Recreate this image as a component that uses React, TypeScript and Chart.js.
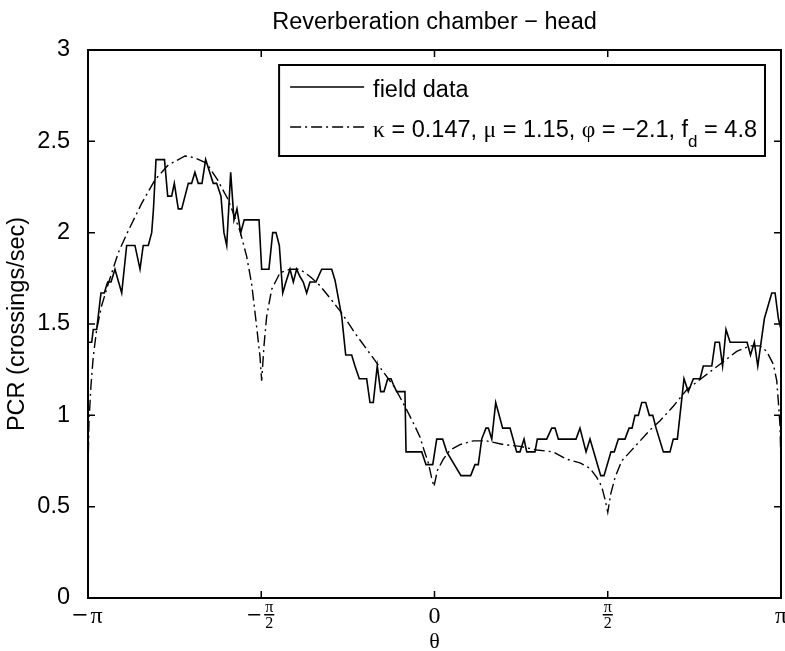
import React, { useEffect, useRef } from 'react';
import { Chart, registerables } from 'chart.js';

Chart.register(...registerables);

const TITLE = 'Reverberation chamber − head';
const Y_LABEL = 'PCR (crossings/sec)';
const X_LABEL = 'θ';
const X_TICK_VALUES = [-Math.PI, -Math.PI / 2, 0, Math.PI / 2, Math.PI];
const X_TICK_LABELS = ['−π', '−π/2', '0', 'π/2', 'π'];
const Y_MIN = 0;
const Y_MAX = 3;
const Y_STEP = 0.5;
const LEGEND_LABELS = ['field data', 'κ = 0.147, μ = 1.15, φ = −2.1, f_d = 4.8'];

const FIELD_THETA = [
  -3.142, -3.108, -3.094, -3.063, -3.024, -2.994, -2.963, -2.933, -2.897, -2.836,
  -2.791, -2.716, -2.670, -2.641, -2.595, -2.564, -2.548, -2.525, -2.448, -2.419,
  -2.383, -2.359, -2.323, -2.292, -2.232, -2.202, -2.172, -2.142, -2.108, -2.075,
  -2.006, -1.975, -1.936, -1.909, -1.884, -1.848, -1.818, -1.791, -1.757, -1.725,
  -1.591, -1.567, -1.501, -1.467, -1.437, -1.407, -1.376, -1.347, -1.310, -1.280,
  -1.250, -1.220, -1.190, -1.159, -1.129, -1.075, -1.023, -0.932, -0.902, -0.841,
  -0.805, -0.751, -0.721, -0.682, -0.615, -0.585, -0.555, -0.519, -0.488, -0.458,
  -0.424, -0.394, -0.374, -0.343, -0.268, -0.258, -0.116, -0.077, -0.016, 0.020,
  0.074, 0.111, 0.240, 0.328, 0.367, 0.397, 0.428, 0.467, 0.488, 0.519,
  0.555, 0.618, 0.685, 0.745, 0.775, 0.812, 0.836, 0.911, 0.932, 1.017,
  1.063, 1.093, 1.123, 1.283, 1.319, 1.374, 1.410, 1.507, 1.537, 1.600,
  1.630, 1.667, 1.727, 1.764, 1.791, 1.818, 1.848, 1.879, 1.915, 1.948,
  1.979, 2.009, 2.075, 2.135, 2.165, 2.202, 2.262, 2.301, 2.347, 2.408,
  2.437, 2.514, 2.544, 2.583, 2.612, 2.643, 2.680, 2.834, 2.865, 2.900,
  2.931, 2.991, 3.058, 3.088, 3.118, 3.142,
];
const FIELD_PCR = [
  1.40, 1.40, 1.47, 1.47, 1.67, 1.67, 1.73, 1.73, 1.80, 1.67,
  1.93, 1.93, 1.80, 1.93, 1.93, 2.00, 2.13, 2.40, 2.40, 2.20,
  2.20, 2.27, 2.13, 2.13, 2.27, 2.27, 2.33, 2.27, 2.27, 2.40,
  2.27, 2.27, 2.20, 2.00, 1.93, 2.33, 2.07, 2.13, 2.00, 2.07,
  2.07, 1.80, 1.80, 2.00, 2.00, 1.93, 1.67, 1.73, 1.80, 1.73,
  1.80, 1.76, 1.73, 1.67, 1.73, 1.73, 1.80, 1.80, 1.74, 1.54,
  1.33, 1.33, 1.27, 1.20, 1.20, 1.07, 1.07, 1.27, 1.13, 1.13,
  1.20, 1.20, 1.17, 1.13, 1.13, 0.80, 0.80, 0.73, 0.73, 0.87,
  0.87, 0.80, 0.67, 0.67, 0.73, 0.73, 0.87, 0.93, 0.93, 0.87,
  1.07, 0.93, 0.93, 0.80, 0.80, 0.87, 0.80, 0.80, 0.87, 0.87,
  0.93, 0.93, 0.87, 0.87, 0.93, 0.80, 0.87, 0.67, 0.67, 0.80,
  0.80, 0.87, 0.87, 0.93, 0.93, 1.00, 1.00, 1.07, 1.07, 1.00,
  1.00, 0.93, 0.80, 0.80, 0.87, 0.87, 1.20, 1.13, 1.20, 1.20,
  1.27, 1.27, 1.40, 1.40, 1.27, 1.47, 1.40, 1.40, 1.33, 1.40,
  1.27, 1.53, 1.67, 1.67, 1.53, 1.47,
];

const FIT_THETA = [
  -3.142, -3.133, -3.115, -3.094, -3.063, -3.018, -2.958, -2.867, -2.777, -2.655,
  -2.534, -2.414, -2.262, -2.172, -2.066, -1.968, -1.870, -1.764, -1.703, -1.658,
  -1.619, -1.582, -1.567, -1.546, -1.522, -1.476, -1.401, -1.310, -1.220, -1.129,
  -1.038, -0.932, -0.841, -0.721, -0.600, -0.479, -0.358, -0.252, -0.177, -0.131,
  -0.095, -0.056, -0.027, -0.005, 0.027, 0.080, 0.141, 0.231, 0.352, 0.473,
  0.624, 0.775, 0.927, 1.077, 1.199, 1.319, 1.410, 1.471, 1.516, 1.546,
  1.571, 1.598, 1.637, 1.697, 1.773, 1.864, 1.954, 2.045, 2.165, 2.287,
  2.437, 2.589, 2.740, 2.861, 2.952, 3.012, 3.072, 3.103, 3.118, 3.133,
  3.142,
];
const FIT_PCR = [
  0.68, 0.96, 1.16, 1.32, 1.47, 1.60, 1.72, 1.89, 2.01, 2.16,
  2.29, 2.37, 2.42, 2.41, 2.38, 2.29, 2.18, 2.01, 1.87, 1.72,
  1.52, 1.32, 1.19, 1.38, 1.54, 1.69, 1.78, 1.80, 1.80, 1.76,
  1.71, 1.63, 1.56, 1.45, 1.35, 1.25, 1.15, 1.03, 0.94, 0.88,
  0.81, 0.74, 0.66, 0.61, 0.70, 0.76, 0.81, 0.84, 0.86, 0.86,
  0.84, 0.83, 0.81, 0.80, 0.76, 0.74, 0.71, 0.66, 0.61, 0.54,
  0.47, 0.57, 0.66, 0.75, 0.80, 0.86, 0.92, 0.97, 1.05, 1.14,
  1.21, 1.28, 1.35, 1.38, 1.38, 1.35, 1.28, 1.19, 1.07, 0.94,
  0.70,
];

const SANS = '"Liberation Sans", Arial, Helvetica, sans-serif';
const SERIF = '"Liberation Serif", "Times New Roman", serif';
const GREEK = 'κμφθπ';
const FONT_SIZE = 23.5;
const TICK_FONT_SIZE = 23.5;

type Seg = { t: string; sub?: boolean; greek?: boolean };

function segmentsOf(label: string): Seg[] {
  const segs: Seg[] = [];
  for (let i = 0; i < label.length; i++) {
    const ch = label[i];
    if (ch === '_' && i + 1 < label.length) {
      segs.push({ t: label[i + 1], sub: true });
      i++;
      continue;
    }
    segs.push({ t: ch, greek: GREEK.includes(ch) });
  }
  return segs;
}

function segFont(s: Seg, size: number) {
  if (s.sub) return `${Math.round(size * 0.72)}px ${SANS}`;
  if (s.greek) return `${size}px ${SERIF}`;
  return `${size}px ${SANS}`;
}

function measureRich(ctx: CanvasRenderingContext2D, label: string, size: number) {
  let w = 0;
  for (const s of segmentsOf(label)) {
    ctx.font = segFont(s, size);
    w += ctx.measureText(s.t).width;
  }
  return w;
}

function drawRich(ctx: CanvasRenderingContext2D, label: string, x: number, y: number, size: number) {
  ctx.textAlign = 'left';
  ctx.textBaseline = 'alphabetic';
  for (const s of segmentsOf(label)) {
    ctx.font = segFont(s, size);
    const dy = s.sub ? size * 0.42 : 0;
    ctx.fillText(s.t, x, y + dy);
    x += ctx.measureText(s.t).width;
  }
}

const decorPlugin = {
  id: 'matlabDecor',
  afterDatasetsDraw(chart: any) {
    const { ctx, chartArea: a, scales } = chart;
    const xs = scales.x;
    const ys = scales.y;
    ctx.save();
    ctx.strokeStyle = '#000';
    ctx.fillStyle = '#000';

    // title centred over the plot area
    ctx.font = `${FONT_SIZE}px ${SANS}`;
    ctx.textAlign = 'center';
    ctx.textBaseline = 'alphabetic';
    ctx.fillText(TITLE, (a.left + a.right) / 2, a.top - 21);

    // axes box
    ctx.lineWidth = 2;
    ctx.setLineDash([]);
    ctx.strokeRect(a.left, a.top, a.right - a.left, a.bottom - a.top);

    // inward tick marks
    const TL = 7;
    ctx.lineWidth = 1.5;
    ctx.beginPath();
    X_TICK_VALUES.forEach((v) => {
      const px = xs.getPixelForValue(v);
      ctx.moveTo(px, a.bottom);
      ctx.lineTo(px, a.bottom - TL);
      ctx.moveTo(px, a.top);
      ctx.lineTo(px, a.top + TL);
    });
    ys.ticks.forEach((t: any) => {
      const py = ys.getPixelForValue(t.value);
      ctx.moveTo(a.left, py);
      ctx.lineTo(a.left + TL, py);
      ctx.moveTo(a.right, py);
      ctx.lineTo(a.right - TL, py);
    });
    ctx.stroke();

    // x tick labels (LaTeX-like)
    ctx.textBaseline = 'alphabetic';
    X_TICK_LABELS.forEach((lab, i) => {
      const px = xs.getPixelForValue(X_TICK_VALUES[i]);
      if (lab.includes('/')) {
        const neg = lab.startsWith('−');
        const [num, den] = (neg ? lab.slice(1) : lab).split('/');
        ctx.font = `16px ${SERIF}`;
        ctx.textAlign = 'center';
        const w = Math.max(ctx.measureText(num).width, ctx.measureText(den).width) + 2;
        const minusW = neg ? 16 : 0;
        const total = minusW + w;
        const fx = px - total / 2 + minusW + w / 2;
        ctx.fillText(num, fx, a.bottom + 14);
        ctx.fillText(den, fx, a.bottom + 30);
        ctx.fillRect(fx - w / 2, a.bottom + 16, w, 1.5);
        if (neg) ctx.fillRect(fx - w / 2 - 16, a.bottom + 16, 12, 1.5);
      } else if (lab.startsWith('−')) {
        ctx.font = `24px ${SERIF}`;
        ctx.textAlign = 'left';
        const body = lab.slice(1);
        const bw = ctx.measureText(body).width;
        const total = 17 + bw;
        const x0 = px - total / 2;
        ctx.fillRect(x0, a.bottom + 16, 13, 1.6);
        ctx.fillText(body, x0 + 17, a.bottom + 25);
      } else {
        ctx.font = `24px ${SERIF}`;
        ctx.textAlign = 'center';
        ctx.fillText(lab, px, a.bottom + 25);
      }
    });

    // x axis title
    ctx.font = `22px ${SERIF}`;
    ctx.textAlign = 'center';
    ctx.fillText(X_LABEL, (a.left + a.right) / 2, a.bottom + 50);

    // y axis title
    ctx.save();
    ctx.translate(18, (a.top + a.bottom) / 2);
    ctx.rotate(-Math.PI / 2);
    ctx.font = `${FONT_SIZE}px ${SANS}`;
    ctx.textAlign = 'center';
    ctx.textBaseline = 'middle';
    ctx.fillText(Y_LABEL, 0, 0);
    ctx.restore();

    // legend
    const textW = Math.max(...LEGEND_LABELS.map((l) => measureRich(ctx, l, FONT_SIZE)));
    const right = a.right - 16;
    const top = a.top + 15;
    const boxW = 11 + 74 + 9 + textW + 8;
    const left = right - boxW;
    const boxH = 91;
    ctx.fillStyle = '#fff';
    ctx.fillRect(left, top, boxW, boxH);
    ctx.lineWidth = 2;
    ctx.setLineDash([]);
    ctx.strokeRect(left, top, boxW, boxH);
    ctx.fillStyle = '#000';
    const rows = [22, 62];
    chart.data.datasets.forEach((ds: any, i: number) => {
      const ly = top + rows[i];
      ctx.beginPath();
      ctx.lineWidth = ds.borderWidth;
      ctx.setLineDash(ds.borderDash || []);
      ctx.moveTo(left + 11, ly);
      ctx.lineTo(left + 85, ly);
      ctx.stroke();
      ctx.setLineDash([]);
      drawRich(ctx, LEGEND_LABELS[i], left + 94, ly + 10, FONT_SIZE);
    });

    ctx.restore();
  },
};

export default function App() {
  const canvasRef = useRef<HTMLCanvasElement | null>(null);

  useEffect(() => {
    const canvas = canvasRef.current;
    if (!canvas) return;
    const fieldData = FIELD_THETA.map((x, i) => ({ x, y: FIELD_PCR[i] }));
    const fitData = FIT_THETA.map((x, i) => ({ x, y: FIT_PCR[i] }));

    const chart = new Chart(canvas, {
      type: 'scatter',
      data: {
        datasets: [
          {
            label: LEGEND_LABELS[0],
            data: fieldData,
            showLine: true,
            borderColor: '#000',
            backgroundColor: '#000',
            borderWidth: 1.6,
            pointRadius: 0,
            tension: 0,
            fill: false,
          },
          {
            label: LEGEND_LABELS[1],
            data: fitData,
            showLine: true,
            borderColor: '#000',
            backgroundColor: '#000',
            borderWidth: 1.4,
            borderDash: [11, 4, 2, 4],
            pointRadius: 0,
            tension: 0,
            fill: false,
          },
        ],
      },
      options: {
        responsive: false,
        devicePixelRatio: 1,
        animation: false,
        layout: { padding: { left: 0, right: 4, top: 50, bottom: 0 } },
        plugins: {
          legend: { display: false },
          tooltip: { enabled: false },
          title: { display: false },
        },
        scales: {
          x: {
            type: 'linear',
            min: -Math.PI,
            max: Math.PI,
            grid: { display: false, drawTicks: false },
            border: { display: false },
            ticks: { display: false },
            afterFit: (scale: any) => {
              scale.height = 53;
            },
          },
          y: {
            type: 'linear',
            min: Y_MIN,
            max: Y_MAX,
            grid: { display: false, drawTicks: false },
            border: { display: false },
            ticks: {
              stepSize: Y_STEP,
              color: '#000',
              padding: 18,
              font: { family: SANS, size: TICK_FONT_SIZE },
              callback: (v: any) => String(Number(v)),
            },
            afterFit: (scale: any) => {
              scale.width = 88;
            },
          },
        },
      },
      plugins: [decorPlugin],
    });

    return () => chart.destroy();
  }, []);

  return (
    <div style={{ position: 'absolute', left: 0, top: 0, width: 785, height: 651, background: '#fff' }}>
      <canvas ref={canvasRef} width={785} height={651} style={{ display: 'block' }} />
    </div>
  );
}
